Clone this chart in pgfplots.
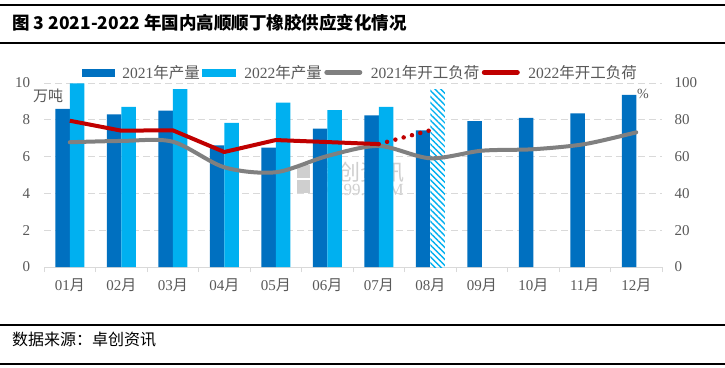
\documentclass[border=0pt]{standalone}
\usepackage{fontspec}
\setmainfont{Liberation Serif}
\newfontfamily\cjk{Noto Sans CJK SC}
\usepackage{pgfplots}
\pgfplotsset{compat=1.18}
\usetikzlibrary{patterns.meta}
\definecolor{b21}{HTML}{0070C0}
\definecolor{b22}{HTML}{00B0F0}
\definecolor{l21}{HTML}{808080}
\definecolor{l22}{HTML}{C00000}
\definecolor{txt}{HTML}{595959}
\definecolor{gridc}{HTML}{D9D9D9}
\definecolor{wm}{HTML}{CFCFCF}
\begin{document}
\begin{tikzpicture}[x=1pt,y=1pt]
\useasboundingbox (0pt,0pt) rectangle (725pt,-367pt);
\fill[white] (0pt,0pt) rectangle (725pt,-367pt);
\draw[line width=1.2pt] (0pt,-5pt) -- (725pt,-5pt);
\draw[line width=1.2pt] (0pt,-43pt) -- (725pt,-43pt);
\node[anchor=west, inner sep=0, font=\cjk\bfseries\fontsize{17.5}{20}\selectfont] at (12pt,-23pt) {图 3 2021-2022 年国内高顺顺丁橡胶供应变化情况};
\draw[line width=1.2pt] (0pt,-325pt) -- (725pt,-325pt);
\draw[line width=1.2pt] (0pt,-364pt) -- (725pt,-364pt);
\node[anchor=west, font=\cjk\fontsize{16}{18}\selectfont, inner sep=0] at (12pt,-340pt) {数据来源：卓创资讯};
% watermark
\fill[wm] (297pt,-165pt) rectangle (310pt,-178pt);
\fill[wm] (297pt,-180pt) rectangle (310pt,-193pt);
\node[anchor=west, inner sep=0, text=wm, font=\cjk\fontsize{22}{24}\selectfont] at (316pt,-172pt) {卓创资讯};
\node[anchor=west, inner sep=0, text=wm, font=\fontsize{17}{18}\selectfont] at (317pt,-190pt) {SCI99.COM};

\begin{axis}[
  at={(44pt,-267pt)}, anchor=south west, scale only axis,
  width=618pt, height=184pt,
  xmin=0.5, xmax=12.5, ymin=0, ymax=10,
  axis x line*=bottom, axis y line*=left,
  y axis line style={draw=none},
  x axis line style={gridc, line width=1pt},
  xtick={1,...,12},
  xticklabels={{01\cjk 月},{02\cjk 月},{03\cjk 月},{04\cjk 月},{05\cjk 月},{06\cjk 月},{07\cjk 月},{08\cjk 月},{09\cjk 月},{10\cjk 月},{11\cjk 月},{12\cjk 月}},
  major x tick style={draw=none},
  minor xtick={0.5,1.5,...,12.5},
  minor x tick style={gridc, line width=1pt},
  minor tick length=5pt,
  tick align=outside,
  ytick={0,2,...,10},
  ytick style={draw=none},
  ymajorgrids,
  y grid style={gridc, dash pattern=on 7pt off 4pt, line width=1pt},
  tick label style={font=\fontsize{15}{17}\selectfont, text=txt},
  /pgf/number format/assume math mode=true,
  yticklabel style={xshift=-6pt},
  xticklabel style={yshift=-4pt},
  clip=false,
]
\addplot[ybar, bar width=14.5pt, bar shift=-7.25pt, fill=b21, draw=none] coordinates {
(1,8.6) (2,8.3) (3,8.5) (4,6.61) (5,6.49) (6,7.52) (7,8.24) (8,7.43) (9,7.93) (10,8.10) (11,8.35) (12,9.35)};
\addplot[ybar, bar width=14.5pt, bar shift=7.25pt, fill=b22, draw=none] coordinates {
(1,9.98) (2,8.70) (3,9.67) (4,7.83) (5,8.93) (6,8.52) (7,8.70)};
\addplot[ybar, bar width=14.5pt, bar shift=7.25pt, draw=none, fill=white,
  postaction={pattern={Lines[angle=-45,distance=4.2pt,line width=1.4pt]}, pattern color=b22}] coordinates {
(8,9.67)};
\end{axis}

\begin{axis}[
  at={(44pt,-267pt)}, anchor=south west, scale only axis,
  width=618pt, height=184pt,
  xmin=0.5, xmax=12.5, ymin=0, ymax=100,
  axis y line*=right, hide x axis,
  y axis line style={draw=none},
  ytick={0,20,...,100},
  ytick style={draw=none},
  tick label style={font=\fontsize{15}{17}\selectfont, text=txt},
  /pgf/number format/assume math mode=true,
  yticklabel style={xshift=9pt},
  clip=false,
  legend columns=4,
  legend style={at={(0.512,1.058)}, anchor=center, draw=none, fill=none,
    font=\fontsize{15.5}{17}\selectfont, text=txt,
    nodes={inner xsep=2.5pt, inner ysep=1pt},
    /tikz/every odd column/.append style={column sep=6pt}},
]
\addlegendimage{legend image code/.code={\fill[b21] (0pt,-3.5pt) rectangle (32pt,3.5pt);}}
\addlegendentry{2021\cjk 年产量}
\addlegendimage{legend image code/.code={\fill[b22] (0pt,-3.5pt) rectangle (33pt,3.5pt);}}
\addlegendentry{2022\cjk 年产量}
\addplot[l21, line width=4pt, smooth, line join=round, line cap=round,
  legend image code/.code={\draw[l21, line width=5pt, line cap=round] (2pt,0pt) -- (35pt,0pt);}] coordinates {
(1,67.8) (2,68.5) (3,68.1) (4,54.2) (5,51.5) (6,60.3) (7,65.8) (8,59.1) (9,63.2) (10,64.0) (11,66.8) (12,73.2)};
\addlegendentry{2021\cjk 年开工负荷}
\addplot[l22, line width=4pt, line join=round,
  legend image code/.code={\draw[l22, line width=5pt, line cap=round] (2pt,0pt) -- (35pt,0pt);}] coordinates {
(1,79.5) (2,74.1) (3,74.3) (4,62.5) (5,69.0) (6,67.9) (7,66.8)};
\addlegendentry{2022\cjk 年开工负荷}
\addplot[l22, line width=4.5pt, line cap=round, dash pattern=on 0pt off 8.6pt, forget plot] coordinates {
(7,66.8) (8,74.3)};
\end{axis}
\node[anchor=west, inner sep=0, text=txt, font=\cjk\fontsize{15}{17}\selectfont] at (33pt,-96pt) {万吨};
\node[anchor=center, inner sep=0, text=txt, font=\fontsize{14}{16}\selectfont] at (643pt,-94pt) {\%};
\end{tikzpicture}
\end{document}
